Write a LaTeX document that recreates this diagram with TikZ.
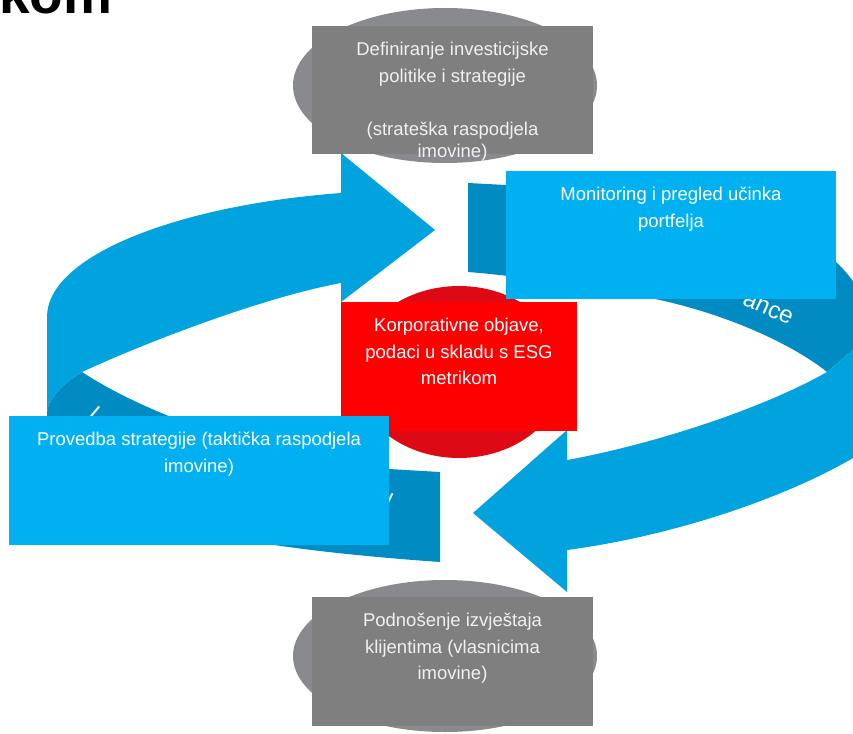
\documentclass[tikz,border=0pt]{standalone}
\usepackage{fontspec}
\setmainfont{Liberation Sans}
\usepackage{tikz}
\usetikzlibrary{positioning}
\definecolor{ringblue}{RGB}{0,163,221}
\definecolor{ringdark}{RGB}{0,140,195}
\definecolor{boxblue}{RGB}{0,176,240}
\definecolor{discgray}{RGB}{136,138,141}
\definecolor{boxgray}{RGB}{127,127,127}
\definecolor{discred}{RGB}{221,10,22}
\definecolor{boxred}{RGB}{255,0,0}
\definecolor{paletext}{RGB}{240,240,240}

\begin{document}
\begin{tikzpicture}[x=1pt,y=-1pt,
		box/.style={rectangle,inner sep=0pt,fill=#1},
		lbl/.style={align=center,inner sep=0pt,text=#1,font=\fontsize{18.5}{26.7}\selectfont},
		frag/.style={inner sep=0pt,text=white,font=\fontsize{24}{24}\selectfont}]
	\useasboundingbox (0,0) rectangle (853,733);
	\clip (0,0) rectangle (853,733);
	\node[anchor=base west,inner sep=0pt,font=\fontsize{55}{55}\selectfont\bfseries] (naslov) at (-1,14) {kom};
	\fill[discgray] (445,85.5) ellipse [x radius=152pt,y radius=77.5pt];
	\fill[discgray] (445,656) ellipse [x radius=152pt,y radius=76pt];
	\fill[ringdark] (47,412) -- (47,430) .. controls (47,510) and (200,545) .. (440,562)
		-- (440,472) -- (389,469) .. controls (250,455) and (140,410) .. (82,372)
		.. controls (62,384) and (49,398) .. (47,412) -- cycle;
	\fill[ringdark] (468,183) -- (506,185) .. controls (700,195) and (800,225) .. (836,262)
		.. controls (850,275) and (860,290) .. (870,310) -- (870,345) -- (853,350) -- (827,372)
		.. controls (800,350) and (740,318) .. (660,300) .. controls (600,288) and (520,276) .. (468,272) -- cycle;
	\fill[ringblue] (47,412) -- (47,317) .. controls (47,255) and (180,205) .. (341,193)
		-- (341,153) -- (435,230) -- (341,302) -- (341,283)
		.. controls (260,298) and (140,345) .. (82,372) .. controls (62,384) and (49,398) .. (47,412) -- cycle;
	\fill[ringblue] (567,460) .. controls (650,445) and (760,410) .. (827,372) -- (853,350)
		-- (870,345) -- (870,450) -- (853,458) .. controls (790,495) and (680,535) .. (567,550)
		-- (567,592) -- (473,513) -- (567,430) -- cycle;
	\node[frag,rotate=-24] (perf) at (768,309) {ance};
	\node[frag,rotate=-5] (ifrag) at (387,502) {y};
	\node[frag,rotate=-40] (lfrag) at (94,414) {l};
	\fill[discred] (459,372) ellipse [x radius=105pt,y radius=86pt];
	\node[box=boxgray,minimum width=281pt,minimum height=128pt] (politika) at (452.5,90) {};
	\node[lbl=paletext,below=16pt of politika.north] (politikatxt) {Definiranje investicijske\\politike i strategije\\[26.7pt](strateška raspodjela\\[-5pt]imovine)};
	\node[box=boxblue,minimum width=330pt,minimum height=128pt] (pregled) at (671,235) {};
	\node[lbl=white,below=16pt of pregled.north] (pregledtxt) {Monitoring i pregled učinka\\portfelja};
	\node[box=boxred,minimum width=236pt,minimum height=129pt] (objave) at (459,366.5) {};
	\node[lbl=white,below=16pt of objave.north] (objavetxt) {Korporativne objave,\\podaci u skladu s ESG\\metrikom};
	\node[box=boxblue,minimum width=380pt,minimum height=129pt] (provedba) at (199,480.5) {};
	\node[lbl=white,below=16pt of provedba.north] (provedbatxt) {Provedba strategije (taktička raspodjela\\imovine)};
	\node[box=boxgray,minimum width=281pt,minimum height=129pt] (izvjestaj) at (452.5,661.5) {};
	\node[lbl=paletext,below=16pt of izvjestaj.north] (izvjestajtxt) {Podnošenje izvještaja\\klijentima (vlasnicima\\imovine)};
\end{tikzpicture}
\end{document}
